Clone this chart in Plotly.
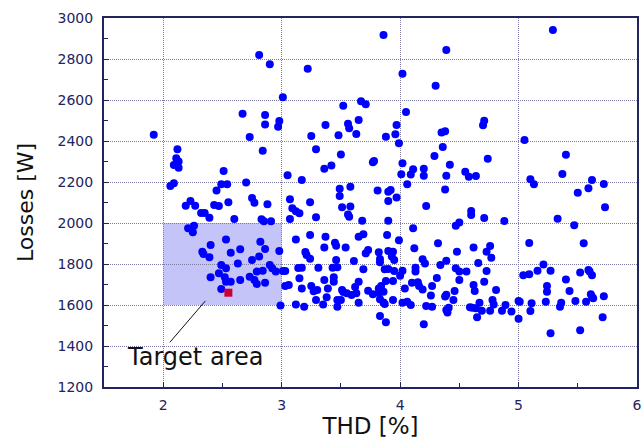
import plotly.graph_objects as go

# ---- data (THD [%], Losses [W]) ----
thd = [
    1.92, 2.12, 2.11, 2.13, 2.09, 2.13, 2.06, 2.09, 2.51, 2.49, 2.54, 2.45, 2.70, 2.19, 2.23, 2.27,
    2.43, 2.47, 2.55, 2.32, 2.35, 2.39, 2.60, 2.75, 2.77, 2.88, 2.84, 2.73, 2.86, 2.97, 2.98, 2.83,
    2.85, 2.91, 2.26, 2.21, 2.25, 2.81, 2.90, 2.67, 2.86, 2.53, 2.40, 2.33, 2.34, 2.39, 2.57, 2.65,
    2.82, 2.86, 2.98, 2.63, 2.75, 2.81, 2.49, 2.53, 2.47, 2.52, 2.40, 2.53, 2.57, 2.65, 2.73, 2.77,
    2.79, 2.86, 2.79, 2.84, 2.90, 2.92, 2.95, 2.49, 2.99,
    3.01, 3.05, 3.07, 3.09, 3.12, 3.15, 3.07, 3.01, 3.03, 3.03, 3.06, 3.12, 3.14, 3.12, 3.86, 4.39,
    3.22, 4.02, 4.30, 3.52, 3.67, 3.71, 4.05, 3.37, 3.56, 3.57, 3.65, 3.63, 3.48, 3.25, 3.88, 3.97,
    3.96, 3.99, 4.35, 4.38, 3.29, 4.36, 3.50, 4.29, 3.78, 3.77, 4.02, 4.42, 3.42, 3.36, 4.11, 4.20,
    4.01, 4.09, 4.20, 4.39, 3.17, 3.49, 3.58, 3.81, 3.90, 3.92, 3.97, 4.06, 4.38, 3.49, 3.24, 3.90,
    3.51, 3.58, 3.56, 3.57, 3.29, 3.68, 3.90, 4.22, 4.11, 4.47, 4.50, 3.24, 3.37, 3.36, 3.45, 3.46,
    3.54, 3.69, 3.65, 3.89, 3.99, 4.12, 4.32, 4.48, 3.20, 3.21, 3.24, 3.73, 3.71, 3.82, 3.90, 3.94,
    3.83, 3.83, 3.93, 3.95, 3.46, 3.61, 4.19, 4.21, 4.34, 4.39, 4.13, 4.13, 4.47, 3.17, 3.31, 3.43,
    3.47, 3.69, 3.87, 3.90, 3.95, 4.02, 4.00, 4.31, 3.15, 3.36, 3.44, 3.44, 3.65, 3.88, 3.94, 4.10,
    4.15, 3.25, 3.17, 3.30, 3.27, 3.39, 3.51, 3.62, 3.73, 3.82, 3.84, 3.86, 4.04, 4.19, 4.27, 4.26,
    4.38, 4.45, 4.46, 3.55, 3.59, 3.63, 3.65, 3.77, 3.83, 3.87, 3.94, 3.29, 3.38, 3.47, 3.50, 3.52,
    3.35, 3.47, 3.19, 4.02, 4.06, 4.09, 4.22, 4.27, 4.39, 4.40, 3.83, 3.88, 4.20, 3.82, 3.86, 4.16,
    4.39,
    5.29, 4.71, 4.70, 5.05, 4.74, 5.40, 4.55, 4.58, 4.64, 5.37, 5.10, 5.13, 5.62, 5.72, 5.50, 5.59,
    5.73, 4.60, 4.60, 4.71, 4.88, 5.33, 5.47, 5.09, 5.55, 4.62, 4.73, 4.76, 4.77, 4.50, 4.56, 4.66,
    4.73, 5.21, 5.16, 5.09, 5.04, 5.27, 5.52, 5.59, 5.60, 5.62, 4.50, 4.71, 5.40, 4.62, 4.63, 4.81,
    5.24, 5.24, 5.43, 5.61, 5.63, 5.62, 5.72, 4.67, 4.78, 4.79, 5.00, 5.01, 5.11, 5.23, 5.36, 5.35,
    5.48, 5.57, 4.41, 4.59, 4.61, 4.64, 4.69, 4.76, 4.86, 4.89, 4.94, 5.10, 5.00, 4.65, 5.71, 5.27,
    5.52,
]
losses = [
    2430, 2360, 2316, 2300, 2283, 2270, 2181, 2194, 2254, 2189, 2189, 2158, 2197, 2084, 2107, 2084,
    2088, 2083, 2101, 2049, 2049, 2026, 2020, 2122, 2099, 2091, 2353, 2420, 2481, 2470, 2498, 2018,
    2008, 2008, 1987, 1974, 1955, 2820, 2774, 2533, 2527, 1920, 1893, 1860, 1849, 1833, 1855, 1872,
    1909, 1873, 1863, 1803, 1820, 1836, 1795, 1779, 1755, 1735, 1735, 1714, 1714, 1722, 1738, 1722,
    1703, 1709, 1763, 1767, 1795, 1779, 1763, 1678, 1597,
    2613, 2233, 2116, 2072, 2057, 2048, 2020, 1766, 1766, 1693, 1698, 1603, 1780, 1920, 2917, 2844,
    2753, 2728, 2670, 2572, 2594, 2579, 2541, 2478, 2484, 2462, 2502, 2434, 2428, 2424, 2421, 2478,
    2433, 2389, 2441, 2447, 2360, 2371, 2334, 2327, 2302, 2296, 2291, 2284, 2281, 2265, 2262, 2265,
    2238, 2236, 2231, 2231, 2210, 2167, 2177, 2159, 2153, 2161, 2125, 2189, 2163, 2132, 2101, 2107,
    2077, 2080, 2042, 2031, 2028, 2011, 2011, 2083, 1974, 1987, 2002, 1941, 1933, 1881, 1904, 1889,
    1881, 1945, 1933, 1941, 1916, 1877, 1901, 1860, 1858, 1844, 1826, 1868, 1852, 1857, 1863, 1860,
    1824, 1808, 1836, 1820, 1820, 1815, 1823, 1803, 1795, 1816, 1782, 1763, 1779, 1782, 1782, 1782,
    1784, 1774, 1774, 1776, 1766, 1767, 1743, 1732, 1730, 1722, 1735, 1714, 1714, 1717, 1717, 1709,
    1711, 1693, 1681, 1673, 1667, 1681, 1673, 1688, 1670, 1681, 1693, 1665, 1681, 1676, 1693, 1646,
    1641, 1624, 1668, 1657, 1649, 1657, 1611, 1652, 1628, 1605, 1624, 1624, 1638, 1624, 1624, 1663,
    1603, 1592, 1592, 1611, 1616, 1600, 1595, 1592, 1576, 1563, 1546, 1516, 1506, 1658, 1612, 1693,
    1650,
    2941, 2499, 2477, 2405, 2314, 2333, 2250, 2226, 2229, 2239, 2213, 2189, 2210, 2190, 2148, 2169,
    2077, 2059, 2039, 2024, 2010, 2021, 1989, 1902, 1901, 1881, 1860, 1888, 1831, 1763, 1763, 1805,
    1766, 1798, 1767, 1750, 1745, 1767, 1758, 1771, 1763, 1745, 1722, 1714, 1725, 1698, 1668, 1673,
    1693, 1665, 1668, 1652, 1633, 1640, 1643, 1611, 1624, 1603, 1619, 1616, 1608, 1616, 1611, 1592,
    1619, 1616, 1587, 1589, 1587, 1584, 1572, 1572, 1572, 1600, 1568, 1571, 1533, 1540, 1540, 1462,
    1477,
]

# best design point
best_thd = [2.55]
best_losses = [1660]

# target area
target_thd = [2.0, 3.0]
target_losses = [1600, 2000]
label_text = "Target area"
label_pos = [2.27, 1346]
leader_start = [2.356, 1620]
leader_end = [2.056, 1418]

x_range = [1.5, 6.0]
y_range = [1200, 3000]

AXIS_COLOR = "#23235e"
GRID_COLOR = "#7c7ca4"

fig = go.Figure()

fig.add_shape(type="rect", xref="x", yref="y",
              x0=target_thd[0], x1=target_thd[1], y0=target_losses[0], y1=target_losses[1],
              fillcolor="#c4c4f8", line=dict(width=0), layer="below")

fig.add_trace(go.Scatter(x=thd, y=losses, mode="markers",
                         marker=dict(color="#0000ff", size=8, line=dict(width=0)),
                         showlegend=False, hoverinfo="x+y"))

fig.add_trace(go.Scatter(x=best_thd, y=best_losses, mode="markers",
                         marker=dict(color="#cc0038", size=8, symbol="square", line=dict(width=0)),
                         showlegend=False))

fig.add_shape(type="line", xref="x", yref="y",
              x0=leader_start[0], y0=leader_start[1], x1=leader_end[0], y1=leader_end[1],
              line=dict(color="#111111", width=1), layer="above")

fig.add_annotation(x=label_pos[0], y=label_pos[1], xref="x", yref="y", text=label_text,
                   showarrow=False, font=dict(family="DejaVu Sans", size=24, color="#111111"))

axis_common = dict(
    showline=True, linecolor=AXIS_COLOR, linewidth=2, mirror=True,
    showgrid=True, gridcolor=GRID_COLOR, griddash="1px,1px", gridwidth=1,
    ticks="inside", ticklen=5, tickcolor=AXIS_COLOR, tickwidth=1,
    tickfont=dict(family="DejaVu Sans", size=14, color=AXIS_COLOR),
    zeroline=False,
)

fig.update_xaxes(range=x_range, tick0=2, dtick=1, **axis_common,
                 minor=dict(ticks="inside", ticklen=4, dtick=0.5, tickcolor=AXIS_COLOR, showgrid=False),
                 title=dict(text="THD [%]", font=dict(family="DejaVu Sans", size=23, color="#111111"),
                            standoff=5),
                 ticklabelstandoff=4)
fig.update_yaxes(range=y_range, tick0=1200, dtick=200, **axis_common,
                 minor=dict(ticks="inside", ticklen=4, dtick=100, tickcolor=AXIS_COLOR, showgrid=False),
                 title=dict(text="Losses [W]", font=dict(family="DejaVu Sans", size=22, color="#111111"),
                            standoff=18),
                 ticklabelstandoff=6)

fig.update_layout(width=644, height=442,
                  margin=dict(l=104, r=7, t=18, b=55, autoexpand=False),
                  paper_bgcolor="white", plot_bgcolor="white")

fig.write_html("out.html")
